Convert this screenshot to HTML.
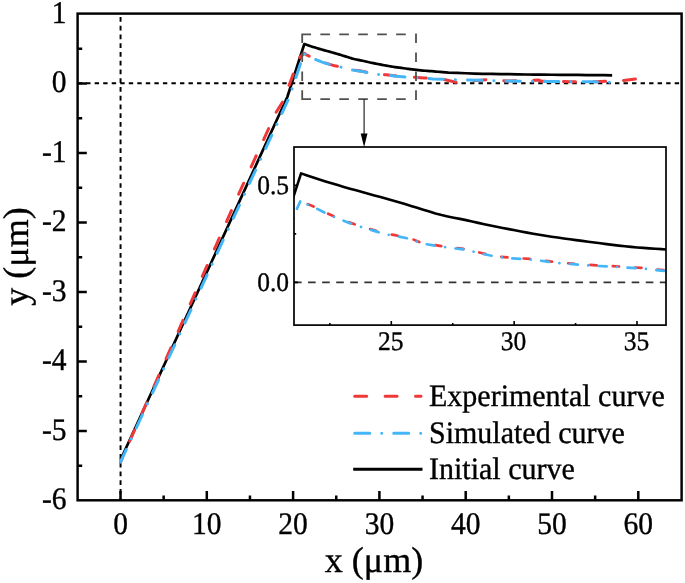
<!DOCTYPE html>
<html><head><meta charset="utf-8"><style>
html,body{margin:0;padding:0;background:#fff;width:685px;height:583px;overflow:hidden}
svg{display:block;font-family:"Liberation Serif",serif;will-change:transform;filter:blur(0.35px)}
text{text-rendering:geometricPrecision;stroke:#000;stroke-width:0.35px}
</style></head><body>
<svg width="685" height="583" viewBox="0 0 685 583">
<defs><clipPath id="cm"><rect x="77.6" y="13.6" width="604.0" height="486.7"/></clipPath>
<clipPath id="ci"><rect x="294.0" y="147.0" width="372.0" height="178.1"/></clipPath>
<clipPath id="cir"><rect x="297.5" y="147.0" width="368.5" height="178.1"/></clipPath></defs>
<line x1="77.6" y1="83.2" x2="681.6" y2="83.2" stroke="#000" stroke-width="1.95" stroke-dasharray="4.4 4.13"/>
<line x1="120.55" y1="13.6" x2="120.55" y2="500.3" stroke="#000" stroke-width="1.95" stroke-dasharray="4.7 4.04" stroke-dashoffset="5.24"/>
<g clip-path="url(#cm)" fill="none" stroke-linejoin="round">
<polyline points="120.50,459.95 287.32,97.01 304.32,44.02 306.48,44.80 308.63,45.54 310.79,46.24 312.95,46.92 315.11,47.58 317.26,48.23 319.42,48.87 321.58,49.50 323.74,50.12 325.89,50.72 328.05,51.32 330.21,51.91 332.37,52.51 334.52,53.12 336.68,53.75 338.84,54.39 341.00,55.04 343.15,55.70 345.31,56.36 347.47,57.05 349.63,57.73 351.78,58.37 353.94,58.95 356.10,59.45 358.26,59.90 360.41,60.34 362.57,60.78 364.73,61.26 366.89,61.77 369.04,62.26 371.20,62.72 373.36,63.17 375.52,63.60 377.67,64.02 379.83,64.43 381.99,64.84 384.15,65.25 386.30,65.65 388.46,66.03 390.62,66.38 392.78,66.72 394.93,67.04 397.09,67.35 399.25,67.64 401.41,67.94 403.56,68.22 405.72,68.51 407.88,68.80 410.04,69.09 412.19,69.38 414.35,69.66 416.51,69.92 418.67,70.16 420.82,70.38 422.98,70.57 425.14,70.74 427.30,70.89 429.45,71.03 431.61,71.18 433.77,71.35 435.93,71.53 438.08,71.72 439.81,71.87 448.44,72.53 457.07,72.92 465.70,73.23 474.33,73.54 482.96,73.78 491.59,73.93 500.22,74.06 508.85,74.21 517.48,74.36 526.11,74.50 534.74,74.62 543.37,74.70 552.00,74.76 560.63,74.83 569.26,74.90 577.89,74.97 586.52,75.05 595.15,75.14 603.78,75.22 612.15,75.31" stroke="#000" stroke-width="2.7"/>
<polyline points="120.50,462.04 189.54,305.60 207.23,265.27 238.56,194.35 276.10,112.30 283.18,101.18 289.91,83.10 299.14,58.07 304.32,53.20 306.48,54.94 309.50,56.26 312.95,58.07 316.40,59.60 318.99,60.64 321.58,61.68 324.17,62.59 327.62,63.63 331.59,64.88 334.61,65.72 337.98,66.27 343.15,67.39 346.61,68.85 351.78,69.75 354.37,70.17 358.69,70.72 362.14,71.14 365.59,71.98 369.04,72.81 374.22,73.85 377.67,74.20 381.99,74.48 386.30,74.76 392.35,75.59 396.66,76.08 402.70,76.56 408.74,76.98 416.51,77.40 424.28,77.89 432.91,78.79 444.13,79.48 456.21,82.27 470.02,81.01 486.41,79.69 508.85,81.01 538.19,79.97 541.64,81.22 569.26,81.71 595.15,81.71 616.73,81.01 621.90,80.60 636.57,78.93" stroke="#f03838" stroke-width="3" stroke-linecap="round" stroke-dasharray="12 18" stroke-dashoffset="7.16"/>
<polyline points="120.50,462.04 288.79,98.40 302.94,56.54 304.32,53.41 306.48,55.15 309.50,56.47 312.95,58.28 316.40,59.81 318.99,60.85 321.58,61.89 324.17,62.80 327.62,63.84 331.59,65.09 334.61,65.93 337.98,66.48 343.15,67.59 346.61,69.05 351.78,69.96 354.37,70.38 358.69,70.93 362.14,71.35 365.59,72.18 369.04,73.02 374.22,74.06 377.67,74.41 381.99,74.69 386.30,74.96 392.35,75.80 396.66,76.29 402.70,76.77 408.74,77.19 416.51,77.61 424.28,78.09 432.91,79.00 444.13,79.28 465.70,79.97 483.82,80.39 508.85,81.01 534.74,81.36 569.26,81.71 595.15,81.85 610.68,82.27" stroke="#44b6f8" stroke-width="3" stroke-linecap="round" stroke-dasharray="14.5 12 0.01 12" stroke-dashoffset="0.88"/>
</g>
<path d="M301.4,34.3 H416.4 M301.4,99.2 H416.4 M302.2,33.5 V99.9 M416,33.5 V99.9" fill="none" stroke="#505050" stroke-width="1.8" stroke-dasharray="9.6 9.35"/>
<line x1="364.1" y1="99.2" x2="364.1" y2="134" stroke="#111" stroke-width="1.1"/>
<path d="M360.7,133.6 L367.5,133.6 L364.1,147 Z" fill="#000"/>
<rect x="77.6" y="13.6" width="604.0" height="486.7" fill="none" stroke="#000" stroke-width="2.45"/>
<path d="M120.50,500.3 V491.0 M206.80,500.3 V491.0 M293.10,500.3 V491.0 M379.40,500.3 V491.0 M465.70,500.3 V491.0 M552.00,500.3 V491.0 M638.30,500.3 V491.0 M163.65,500.3 V495.40000000000003 M249.95,500.3 V495.40000000000003 M336.25,500.3 V495.40000000000003 M422.55,500.3 V495.40000000000003 M508.85,500.3 V495.40000000000003 M595.15,500.3 V495.40000000000003 M77.6,431.00 H86.8 M77.6,361.50 H86.8 M77.6,292.00 H86.8 M77.6,222.50 H86.8 M77.6,153.00 H86.8 M77.6,83.50 H86.8 M77.6,465.75 H82.19999999999999 M77.6,396.25 H82.19999999999999 M77.6,326.75 H82.19999999999999 M77.6,257.25 H82.19999999999999 M77.6,187.75 H82.19999999999999 M77.6,118.25 H82.19999999999999 M77.6,48.75 H82.19999999999999" stroke="#000" stroke-width="2.5" fill="none"/>
<g font-family="Liberation Serif" font-size="29.5" fill="#000"><text transform="translate(120.50,534) scale(1,1.065)" text-anchor="middle">0</text><text transform="translate(206.80,534) scale(1,1.065)" text-anchor="middle">10</text><text transform="translate(293.10,534) scale(1,1.065)" text-anchor="middle">20</text><text transform="translate(379.40,534) scale(1,1.065)" text-anchor="middle">30</text><text transform="translate(465.70,534) scale(1,1.065)" text-anchor="middle">40</text><text transform="translate(552.00,534) scale(1,1.065)" text-anchor="middle">50</text><text transform="translate(638.30,534) scale(1,1.065)" text-anchor="middle">60</text><text transform="translate(66.5,509.38) scale(1,1.065)" text-anchor="end">-6</text><text transform="translate(66.5,439.85) scale(1,1.065)" text-anchor="end">-5</text><text transform="translate(66.5,370.32) scale(1,1.065)" text-anchor="end">-4</text><text transform="translate(66.5,300.79) scale(1,1.065)" text-anchor="end">-3</text><text transform="translate(66.5,231.26) scale(1,1.065)" text-anchor="end">-2</text><text transform="translate(66.5,161.73) scale(1,1.065)" text-anchor="end">-1</text><text transform="translate(66.5,92.20) scale(1,1.065)" text-anchor="end">0</text><text transform="translate(66.5,22.67) scale(1,1.065)" text-anchor="end">1</text></g>
<text x="374" y="571.8" text-anchor="middle" font-family="Liberation Serif" font-size="36">x (μm)</text>
<text transform="translate(28.2,256.5) rotate(-90)" text-anchor="middle" font-family="Liberation Serif" font-size="36">y (μm)</text>
<rect x="294.0" y="147.0" width="372.0" height="178.1" fill="#fff" stroke="none"/>
<line x1="294.0" y1="282.40" x2="666.0" y2="282.40" stroke="#333" stroke-width="1.8" stroke-dasharray="7.6 6.47"/>
<g clip-path="url(#ci)" fill="none" stroke-linejoin="round">
<polyline points="-219.50,1333.88 252.93,321.20 301.07,173.37 307.18,175.53 313.29,177.59 319.40,179.56 325.51,181.45 331.62,183.30 337.73,185.11 343.84,186.89 349.95,188.66 356.06,190.37 362.17,192.06 368.28,193.72 374.39,195.38 380.50,197.05 386.61,198.75 392.72,200.50 398.83,202.29 404.94,204.11 411.05,205.94 417.16,207.80 423.27,209.72 429.38,211.61 435.49,213.40 441.60,215.01 447.71,216.41 453.82,217.67 459.93,218.89 466.04,220.13 472.15,221.47 478.26,222.87 484.37,224.26 490.48,225.55 496.59,226.78 502.70,227.98 508.81,229.15 514.92,230.31 521.03,231.46 527.14,232.60 533.25,233.71 539.36,234.77 545.47,235.76 551.58,236.69 557.69,237.58 563.80,238.44 569.91,239.27 576.02,240.09 582.13,240.89 588.24,241.69 594.35,242.50 600.46,243.31 606.57,244.12 612.68,244.89 618.79,245.62 624.90,246.30 631.01,246.91 637.12,247.44 643.23,247.91 649.34,248.33 655.45,248.73 661.56,249.15 667.67,249.61 673.78,250.11 679.89,250.64 684.78,251.07 709.22,252.91 733.66,253.99 758.10,254.85 782.54,255.71 806.98,256.40 831.42,256.82 855.86,257.18 880.30,257.59 904.74,258.02 929.18,258.42 953.62,258.73 978.06,258.96 1002.50,259.14 1026.94,259.32 1051.38,259.51 1075.82,259.72 1100.26,259.95 1124.70,260.18 1149.14,260.43 1172.85,260.67" stroke="#000" stroke-width="2.6"/>
<polyline clip-path="url(#cir)" points="-219.50,1339.70 -23.98,903.20 26.12,790.68 114.84,592.80 221.15,363.88 241.19,332.84 260.26,282.40 286.41,212.56 301.07,198.98 307.18,203.83 315.74,207.52 325.51,212.56 335.29,216.83 342.62,219.74 349.95,222.65 357.28,225.17 367.06,228.08 378.30,231.57 386.86,233.90 396.39,235.45 411.05,238.56 420.83,242.63 435.49,245.15 442.82,246.32 455.04,247.87 464.82,249.03 474.60,251.36 484.37,253.69 499.04,256.60 508.81,257.57 521.03,258.34 533.25,259.12 550.36,261.45 562.58,262.81 579.69,264.16 596.80,265.33 618.79,266.49 640.79,267.85 665.23,270.37 697.00,272.31 731.22,280.07 770.32,276.58 816.76,272.89 880.30,276.58 963.40,273.67 973.17,277.16 1051.38,278.52 1124.70,278.52 1185.80,276.58 1200.46,275.42 1242.01,270.76" stroke="#f03838" stroke-width="2.7" stroke-linecap="round" stroke-dasharray="6.2 16.2" stroke-dashoffset="12.09"/>
<polyline points="-219.50,1339.70 257.08,325.08 297.16,208.29 301.07,199.56 307.18,204.41 315.74,208.10 325.51,213.14 335.29,217.41 342.62,220.32 349.95,223.23 357.28,225.75 367.06,228.66 378.30,232.15 386.86,234.48 396.39,236.03 411.05,239.14 420.83,243.21 435.49,245.73 442.82,246.90 455.04,248.45 464.82,249.61 474.60,251.94 484.37,254.27 499.04,257.18 508.81,258.15 521.03,258.93 533.25,259.70 550.36,262.03 562.58,263.39 579.69,264.75 596.80,265.91 618.79,267.07 640.79,268.43 665.23,270.95 697.00,271.73 758.10,273.67 809.42,274.83 880.30,276.58 953.62,277.55 1051.38,278.52 1124.70,278.91 1168.69,280.07" stroke="#44b6f8" stroke-width="2.7" stroke-linecap="round" stroke-dasharray="8.0 10.45 0.01 10.45" stroke-dashoffset="28.08"/>
</g>
<rect x="294.0" y="147.0" width="372.0" height="178.1" fill="none" stroke="#000" stroke-width="1.7"/>
<path d="M391.30,325.1 V320.90000000000003 M514.15,325.1 V320.90000000000003 M637.00,325.1 V320.90000000000003 M329.88,325.1 V322.90000000000003 M452.73,325.1 V322.90000000000003 M575.58,325.1 V322.90000000000003 M294.0,282.40 H298.0 M294.0,185.40 H298.0 M294.0,233.90 H296.2" stroke="#000" stroke-width="1.6" fill="none"/>
<g font-family="Liberation Serif" font-size="25.5" fill="#000"><text transform="translate(390.70,349.5) scale(1,1.05)" text-anchor="middle">25</text><text transform="translate(513.55,349.5) scale(1,1.05)" text-anchor="middle">30</text><text transform="translate(636.40,349.5) scale(1,1.05)" text-anchor="middle">35</text><text transform="translate(289,291.00) scale(1,1.05)" text-anchor="end">0.0</text><text transform="translate(289,194.00) scale(1,1.05)" text-anchor="end">0.5</text></g>
<line x1="353.2" y1="396.3" x2="421" y2="396.3" stroke="#f03838" stroke-width="3" stroke-linecap="round" stroke-dasharray="12 18.4" stroke-dashoffset="-1.5"/>
<line x1="353.2" y1="433.2" x2="422.5" y2="433.2" stroke="#44b6f8" stroke-width="3" stroke-linecap="round" stroke-dasharray="15 12 0.01 12" stroke-dashoffset="-1.5"/>
<line x1="353.2" y1="469.2" x2="422.5" y2="469.2" stroke="#000" stroke-width="3"/>
<g font-family="Liberation Serif" font-size="30" fill="#000"><text transform="translate(429,405.6) scale(1,1.04)">Experimental curve</text><text transform="translate(429,443) scale(1,1.04)">Simulated curve</text><text transform="translate(429,479.2) scale(1,1.04)">Initial curve</text></g>
</svg>
</body></html>
